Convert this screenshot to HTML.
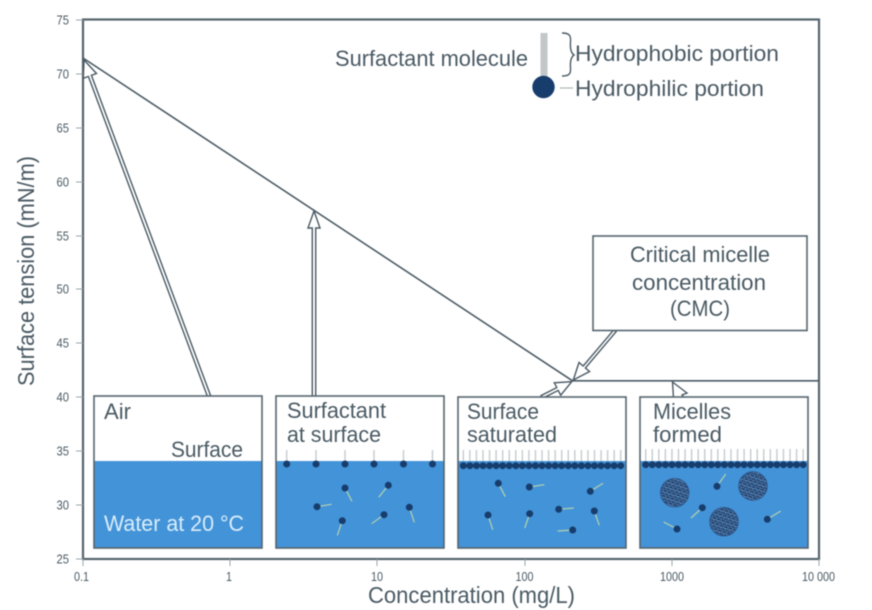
<!DOCTYPE html>
<html lang="en">
<head>
<meta charset="utf-8">
<title>Surface tension vs concentration</title>
<style>
html,body{margin:0;padding:0;background:#fff;width:872px;height:610px;overflow:hidden}
svg{display:block;filter:blur(.4px)}
text{font-family:"Liberation Sans",sans-serif;fill:#4a5a64}
</style>
</head>
<body>
<svg xmlns="http://www.w3.org/2000/svg" width="872" height="610" viewBox="0 0 872 610">
<defs>
<pattern id="cells" width="4.6" height="5.2" patternUnits="userSpaceOnUse" patternTransform="rotate(18)">
<rect width="4.6" height="5.2" fill="#1d3f6e"/>
<path d="M0 .9 2.3 0 4.6 .9V2.6H0ZM2.3 2.6V5.2M0 2.6 2.3 3.5 4.6 2.6M0 3.5V5.2M4.6 3.5V5.2" fill="none" stroke="#6690bc" stroke-width=".55"/>
</pattern>
</defs>

<!-- Plot frame -->
<rect x="83" y="19.5" width="736" height="539.5" fill="#fff" stroke="#56666e" stroke-width="2.2"/>

<!-- Ticks -->
<g stroke="#9aa4aa" stroke-width="1">
<path d="M76 20H83M76 74H83M76 128H83M76 182H83M76 236H83M76 289H83M76 343H83M76 397H83M76 451H83M76 505H83M76 559H83"/>
<path d="M83 559V566M230 559V566M377 559V566M525 559V566M672 559V566M819 559V566"/>
</g>

<!-- Y tick labels -->
<g font-size="13" lengthAdjust="spacingAndGlyphs">
<text x="56.5" y="24.5" textLength="12.5" lengthAdjust="spacingAndGlyphs">75</text>
<text x="56.5" y="78.5" textLength="12.5" lengthAdjust="spacingAndGlyphs">70</text>
<text x="56.5" y="132.5" textLength="12.5" lengthAdjust="spacingAndGlyphs">65</text>
<text x="56.5" y="186.5" textLength="12.5" lengthAdjust="spacingAndGlyphs">60</text>
<text x="56.5" y="240.5" textLength="12.5" lengthAdjust="spacingAndGlyphs">55</text>
<text x="56.5" y="293.5" textLength="12.5" lengthAdjust="spacingAndGlyphs">50</text>
<text x="56.5" y="347.5" textLength="12.5" lengthAdjust="spacingAndGlyphs">45</text>
<text x="56.5" y="401.5" textLength="12.5" lengthAdjust="spacingAndGlyphs">40</text>
<text x="56.5" y="455.5" textLength="12.5" lengthAdjust="spacingAndGlyphs">35</text>
<text x="56.5" y="509.5" textLength="12.5" lengthAdjust="spacingAndGlyphs">30</text>
<text x="56.5" y="563.5" textLength="12.5" lengthAdjust="spacingAndGlyphs">25</text>
</g>

<!-- X tick labels -->
<g font-size="13">
<text x="74" y="581" textLength="15" lengthAdjust="spacingAndGlyphs">0.1</text>
<text x="226" y="581" textLength="6" lengthAdjust="spacingAndGlyphs">1</text>
<text x="371" y="581" textLength="12" lengthAdjust="spacingAndGlyphs">10</text>
<text x="515.5" y="581" textLength="18" lengthAdjust="spacingAndGlyphs">100</text>
<text x="660" y="581" textLength="24" lengthAdjust="spacingAndGlyphs">1000</text>
<text x="802" y="581" textLength="33" lengthAdjust="spacingAndGlyphs">10 000</text>
</g>

<!-- Axis titles -->
<text x="368" y="603" font-size="23" textLength="207" lengthAdjust="spacingAndGlyphs">Concentration (mg/L)</text>
<text transform="translate(34 386) rotate(-90)" font-size="23" textLength="230" lengthAdjust="spacingAndGlyphs">Surface tension (mN/m)</text>

<!-- Curve -->
<path d="M83 58 572.5 380.8H819" fill="none" stroke="#4a5a64" stroke-width="1.6"/>

<!-- Arrows -->
<g fill="#fff" stroke="#4a5a64" stroke-width="1.4" stroke-linejoin="miter">
<polygon points="84,60 96.5,73.5 91.4,75.3 210.5,395.4 207.5,396.6 88.4,76.5 83.3,78.3"/>
<polygon points="314,211 320,228 315.7,228 315.7,397 312.3,397 312.3,228 308,228"/>
<polygon points="573.3,380 589.6,371.5 585.4,368 616.1,331.7 613.9,329.7 583.2,366 579,362.5"/>
<polygon points="571.7,381.7 560.7,395.2 558.2,390.4 542.4,398.4 541,395.6 556.8,387.6 554.3,382.8"/>
<polygon points="672.5,382 687,393 682,395 684,398 673.5,398"/>
</g>

<!-- CMC box -->
<rect x="593" y="236" width="214" height="94.5" fill="#fff" stroke="#56656e" stroke-width="1.6"/>
<g font-size="22">
<text x="630" y="262" textLength="140" lengthAdjust="spacingAndGlyphs">Critical micelle</text>
<text x="632" y="290" textLength="134" lengthAdjust="spacingAndGlyphs">concentration</text>
<text x="670" y="316" textLength="60" lengthAdjust="spacingAndGlyphs">(CMC)</text>
</g>

<!-- Molecule legend -->
<rect x="540.5" y="33" width="7" height="46" fill="#c3c7c9"/>
<circle cx="543.5" cy="87" r="11.2" fill="#173d6d"/>
<path d="M560 88H573" stroke="#aeb4b8" stroke-width="1.2"/>
<path d="M562 33C570 33 571 36 570.5 42C570 49 571 53 574 55C571 57 570 61 570.5 68C571 74 569 76 562 76" fill="none" stroke="#4a5a64" stroke-width="1.4"/>
<g font-size="22">
<text x="335" y="66" textLength="193" lengthAdjust="spacingAndGlyphs">Surfactant molecule</text>
<text x="575" y="61" textLength="204" lengthAdjust="spacingAndGlyphs">Hydrophobic portion</text>
<text x="575" y="96" textLength="189" lengthAdjust="spacingAndGlyphs">Hydrophilic portion</text>
</g>

<!-- Panel 1 -->
<rect x="94" y="396" width="168" height="152" fill="#fff"/>
<rect x="94" y="461" width="168" height="87" fill="#4393d8"/>
<rect x="94" y="396" width="168" height="152" fill="none" stroke="#56656e" stroke-width="1.6"/>
<g font-size="22">
<text x="104" y="419" textLength="27" lengthAdjust="spacingAndGlyphs">Air</text>
<text x="171" y="457" textLength="72" lengthAdjust="spacingAndGlyphs">Surface</text>
<text x="104" y="531" textLength="140" lengthAdjust="spacingAndGlyphs" style="fill:#d8edfa">Water at 20 °C</text>
</g>

<!-- Panel 2 -->
<rect x="276" y="396" width="168" height="152" fill="#fff"/>
<rect x="276" y="461" width="168" height="87" fill="#4393d8"/>
<path d="M286.7 450V464M316 450V464M345 450V464M374 450V464M403.5 450V464M432.5 450V464" stroke="#c6cbce" stroke-width="1.4"/>
<g stroke="#b5d2ac" stroke-width="1.2">
<path d="M317 506.7 331.7 504.3M345 488 352 501.3M388.3 485.3 378.7 497.3M384 514.7 371.7 523.7M409.3 507.3 414.3 522.3M342.3 520.7 337.3 535.3"/>
</g>
<g fill="#173d6d">
<circle cx="286.7" cy="464" r="3.5"/><circle cx="316" cy="464" r="3.5"/><circle cx="345" cy="464" r="3.5"/>
<circle cx="374" cy="464" r="3.5"/><circle cx="403.5" cy="464" r="3.5"/><circle cx="432.5" cy="464" r="3.5"/>
<circle cx="317" cy="506.7" r="3.5"/><circle cx="345" cy="488" r="3.5"/><circle cx="388.3" cy="485.3" r="3.5"/>
<circle cx="384" cy="514.7" r="3.5"/><circle cx="409.3" cy="507.3" r="3.5"/><circle cx="342.3" cy="520.7" r="3.5"/>
</g>
<rect x="276" y="396" width="168" height="152" fill="none" stroke="#56656e" stroke-width="1.6"/>
<g font-size="22">
<text x="287" y="418" textLength="99" lengthAdjust="spacingAndGlyphs">Surfactant</text>
<text x="287" y="442" textLength="94" lengthAdjust="spacingAndGlyphs">at surface</text>
</g>

<!-- Panel 3 -->
<rect x="458" y="397" width="168" height="151" fill="#fff"/>
<rect x="458" y="461" width="168" height="87" fill="#4393d8"/>
<path d="M462.6 455.5H621.5" stroke="#c6cbce" stroke-width="11" stroke-dasharray="1.4 5.16"/>
<path d="M463.3 465.7H621" stroke="#173d6d" stroke-width="7" stroke-linecap="round" stroke-dasharray="0 6.56"/>
<g stroke="#b5d2ac" stroke-width="1.2">
<path d="M498.3 483.3 505.3 496.7M529.3 487 544.3 484.7M590.3 491.3 603 483.3M488 515 492.7 529.7M529.7 513.7 524.7 528M558.7 509.3 573.7 508M594.3 511 599.3 525.3M572.7 530 557.7 531"/>
</g>
<g fill="#173d6d">
<circle cx="498.3" cy="483.3" r="3.5"/><circle cx="529.3" cy="487" r="3.5"/><circle cx="590.3" cy="491.3" r="3.5"/>
<circle cx="488" cy="515" r="3.5"/><circle cx="529.7" cy="513.7" r="3.5"/><circle cx="558.7" cy="509.3" r="3.5"/>
<circle cx="594.3" cy="511" r="3.5"/><circle cx="572.7" cy="530" r="3.5"/>
</g>
<rect x="458" y="397" width="168" height="151" fill="none" stroke="#56656e" stroke-width="1.6"/>
<g font-size="22">
<text x="467" y="419" textLength="72" lengthAdjust="spacingAndGlyphs">Surface</text>
<text x="467" y="442" textLength="90" lengthAdjust="spacingAndGlyphs">saturated</text>
</g>

<!-- Panel 4 -->
<rect x="640" y="397" width="168" height="151" fill="#fff"/>
<rect x="640" y="461" width="168" height="87" fill="#4393d8"/>
<path d="M645 449H804" stroke="#c6cbce" stroke-width="12" stroke-dasharray="1.4 5.16" transform="translate(0 6)"/>
<path d="M645.7 464.7H803.5" stroke="#173d6d" stroke-width="7" stroke-linecap="round" stroke-dasharray="0 6.56"/>
<g stroke="#b5d2ac" stroke-width="1.2">
<path d="M717 486.3 725.7 474M702.3 507.7 691 518M677 529 663.7 522M767.3 519.3 780.7 511"/>
</g>
<g fill="#173d6d">
<circle cx="717" cy="486.3" r="3.5"/><circle cx="702.3" cy="507.7" r="3.5"/><circle cx="677" cy="529" r="3.5"/><circle cx="767.3" cy="519.3" r="3.5"/>
</g>
<g fill="url(#cells)" stroke="#2f5587" stroke-width=".8">
<circle cx="674.7" cy="492.7" r="14.3"/>
<circle cx="753" cy="486" r="14.3"/>
<circle cx="724" cy="521.7" r="14.3"/>
</g>
<rect x="640" y="397" width="168" height="151" fill="none" stroke="#56656e" stroke-width="1.6"/>
<g font-size="22">
<text x="653" y="419" textLength="78" lengthAdjust="spacingAndGlyphs">Micelles</text>
<text x="653" y="442" textLength="69" lengthAdjust="spacingAndGlyphs">formed</text>
</g>
</svg>
</body>
</html>
